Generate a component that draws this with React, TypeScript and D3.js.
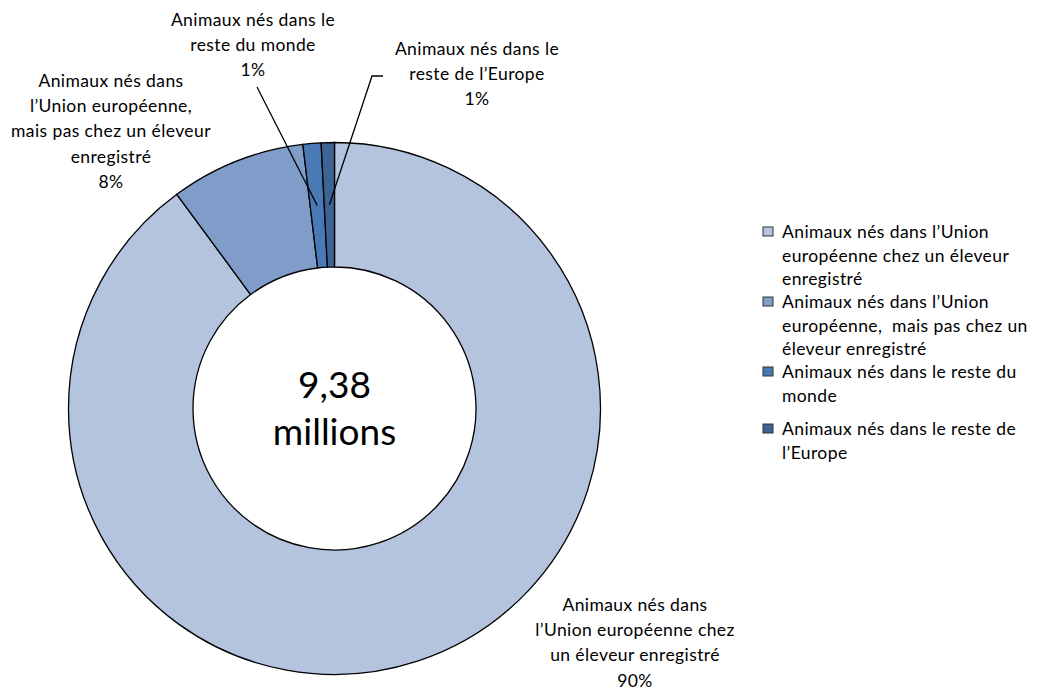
import { useEffect, useRef } from 'react'
import * as d3 from 'd3'

// slice shares (%), clockwise from 12 o'clock
const categories = [
	'Animaux nés dans l’Union européenne chez un éleveur enregistré',
	'Animaux nés dans l’Union européenne, mais pas chez un éleveur enregistré',
	'Animaux nés dans le reste du monde',
	'Animaux nés dans le reste de l’Europe',
]
const shares = [89.9, 8.2, 1.1, 0.8]
const shareLabels = ['90%', '8%', '1%', '1%']
const colors = ['#b4c3de', '#7f9dc8', '#4a7ab5', '#3d6495']

// wrapped text as it appears in the chart
const sliceLabelLines = [
	['Animaux nés dans', 'l’Union européenne chez', 'un éleveur enregistré'],
	['Animaux nés dans', 'l’Union européenne,', 'mais pas chez un éleveur', 'enregistré'],
	['Animaux nés dans le', 'reste du monde'],
	['Animaux nés dans le', 'reste de l’Europe'],
]
const legendLines = [
	['Animaux nés dans l’Union', 'européenne chez un éleveur', 'enregistré'],
	['Animaux nés dans l’Union', 'européenne,  mais pas chez un', 'éleveur enregistré'],
	['Animaux nés dans le reste du', 'monde'],
	['Animaux nés dans le reste de', 'l’Europe'],
]
const totalLines = ['9,38', 'millions']

const W = 1042
const H = 690
const cx = 334.5
const cy = 408.5
const outerR = 266
const innerR = 141.5
const font = 'Lato, "Open Sans", sans-serif'
const fs = 17.5
const ls = 0.4

// label anchors (center x, first baseline y)
const labelPos = [
	{ x: 635, y: 611 },
	{ x: 111, y: 87 },
	{ x: 253, y: 26 },
	{ x: 477, y: 55 },
]
const lineH = 25.2

// leader line start points for the small slices
const leaderStart: ([number, number] | null)[][] = [
	[],
	[],
	[[257, 87]],
	[[383, 76], [372, 76]],
]

const legendX = 763
const legendY = [227, 297, 367, 424]
const legendLineH = 23.5

export default function App() {
	const ref = useRef<SVGSVGElement>(null)

	useEffect(() => {
		const svg = d3.select(ref.current)
		svg.selectAll('*').remove()

		const data = categories.map((c, i) => ({ name: c, value: shares[i], i }))
		const pie = d3.pie<any>().value(d => d.value).sort(null)
		const arcs = pie(data)
		const arc = d3.arc<any>().innerRadius(innerR).outerRadius(outerR)

		const g = svg.append('g').attr('transform', `translate(${cx},${cy})`)

		g.selectAll('path')
			.data(arcs)
			.enter().append('path')
			.attr('d', arc)
			.attr('fill', d => colors[d.data.i])
			.attr('stroke', '#000')
			.attr('stroke-width', 1.3)

		// leader lines to slice centroids
		arcs.forEach((a, i) => {
			const pts = leaderStart[i]
			if (!pts || pts.length === 0) return
			const [mx, my] = arc.centroid(a)
			const all = [...pts, [cx + mx, cy + my]] as [number, number][]
			svg.append('path')
				.attr('d', d3.line()(all))
				.attr('fill', 'none')
				.attr('stroke', '#000')
				.attr('stroke-width', 1.3)
		})

		// slice labels
		sliceLabelLines.forEach((lines, i) => {
			const t = svg.append('text')
				.attr('text-anchor', 'middle')
				.attr('font-family', font)
				.attr('font-size', fs)
				.attr('letter-spacing', ls)
				.attr('fill', '#000')
			;[...lines, shareLabels[i]].forEach((l, k) => {
				t.append('tspan')
					.attr('x', labelPos[i].x)
					.attr('y', labelPos[i].y + k * lineH)
					.text(l)
			})
		})

		// centre total
		const ct = svg.append('text')
			.attr('text-anchor', 'middle')
			.attr('font-family', font)
			.attr('font-size', 37)
			.attr('fill', '#000')
		totalLines.forEach((l, k) => {
			ct.append('tspan')
				.attr('x', cx)
				.attr('y', 398 + k * 47)
				.text(l)
		})

		// legend
		const lg = svg.append('g')
		legendLines.forEach((lines, i) => {
			lg.append('rect')
				.attr('x', legendX)
				.attr('y', legendY[i])
				.attr('width', 10)
				.attr('height', 9)
				.attr('fill', colors[i])
				.attr('stroke', '#333')
				.attr('stroke-width', 1)
			const t = lg.append('text')
				.attr('font-family', font)
				.attr('font-size', fs)
				.attr('letter-spacing', ls)
				.attr('fill', '#000')
			lines.forEach((l, k) => {
				t.append('tspan')
					.attr('x', legendX + 19)
					.attr('y', legendY[i] + 11 + k * legendLineH)
					.style('white-space', 'pre')
					.text(l)
			})
		})
	}, [])

	return (
		<svg
			ref={ref}
			width={W}
			height={H}
			style={{ position: 'absolute', left: 0, top: 0, background: '#fff' }}
		/>
	)
}
